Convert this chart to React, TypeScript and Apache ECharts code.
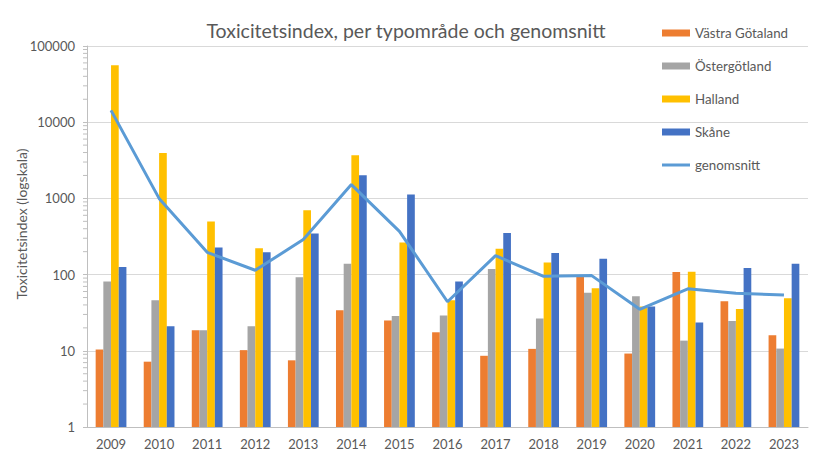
import { useEffect, useRef } from 'react';
import * as echarts from 'echarts';

const years = ['2009', '2010', '2011', '2012', '2013', '2014', '2015', '2016', '2017', '2018', '2019', '2020', '2021', '2022', '2023'];

const vastraGotaland = [10.4, 7.2, 18.6, 10.2, 7.5, 34, 25, 17.5, 8.6, 10.6, 97, 9.2, 108, 44.6, 16];
const ostergotland = [81, 46, 18.6, 21, 92, 139, 28.6, 29, 118, 26.5, 58, 52, 13.6, 24.6, 10.7];
const halland = [55800, 3940, 496, 221, 698, 3680, 263, 46, 219, 144, 66, 38, 109, 35.4, 49];
const skane = [126, 21, 226, 196, 345, 2010, 1122, 81, 352, 192, 162, 38, 23.5, 122, 139];
const genomsnitt = [14300, 1000, 196, 114, 288, 1517, 370, 44, 177, 95, 97, 35, 65, 57, 54];

// minor log ticks 2..9 per decade
const minorTicks: number[] = [];
for (let k = 0; k < 5; k++) {
  for (let m = 2; m <= 9; m++) minorTicks.push(m * Math.pow(10, k));
}

const FONT = 'Lato, "Noto Sans", sans-serif';
const TEXT = '#595959';

export default function App() {
  const chartRef = useRef<HTMLDivElement>(null);

  useEffect(() => {
    if (!chartRef.current) return;
    document.body.style.margin = '0';
    const chart = echarts.init(chartRef.current, undefined, { renderer: 'svg' });

    const barBase = { type: 'bar' as const, barGap: '0%', barCategoryGap: '36%' };

    chart.setOption({
      animation: false,
      backgroundColor: '#ffffff',
      textStyle: { fontFamily: FONT },
      title: {
        text: 'Toxicitetsindex, per typområde och genomsnitt',
        left: 401,
        top: 15,
        textAlign: 'center',
        textStyle: { fontFamily: FONT, fontSize: 19.5, fontWeight: 'normal', color: TEXT },
      },
      legend: {
        orient: 'vertical',
        left: 662,
        top: 25,
        padding: 0,
        itemWidth: 28,
        itemHeight: 7,
        itemGap: 17,
        symbolKeepAspect: true,
        textStyle: { fontFamily: FONT, fontSize: 13.3, color: TEXT, lineHeight: 16 },
        data: [
          { name: 'Västra Götaland', icon: 'rect' },
          { name: 'Östergötland', icon: 'rect' },
          { name: 'Halland', icon: 'rect' },
          { name: 'Skåne', icon: 'rect' },
          { name: 'genomsnitt', icon: 'path://M0,0 H28 V3 H0 Z' },
        ],
      },
      grid: { left: 87, right: 13, top: 46, bottom: 35 },
      xAxis: {
        type: 'category',
        data: years,
        axisLine: { lineStyle: { color: '#bfbfbf' } },
        axisTick: { length: 5, lineStyle: { color: '#bfbfbf' } },
        axisLabel: { fontFamily: FONT, fontSize: 13, color: TEXT, margin: 10 },
      },
      yAxis: {
        type: 'log',
        logBase: 10,
        min: 1,
        max: 100000,
        axisLine: { show: true, lineStyle: { color: '#bfbfbf' } },
        axisTick: { show: true, length: 4, lineStyle: { color: '#bfbfbf' } },
        axisLabel: {
          fontFamily: FONT,
          fontSize: 13,
          color: TEXT,
          margin: 12,
          formatter: (v: number) => String(Math.round(v)),
        },
        splitLine: { lineStyle: { color: '#d9d9d9' } },
      },
      graphic: [
        {
          type: 'text',
          x: 21,
          y: 224,
          rotation: Math.PI / 2,
          style: {
            text: 'Toxicitetsindex (logskala)',
            fontFamily: FONT,
            fontSize: 14,
            fill: TEXT,
            align: 'center',
            verticalAlign: 'middle',
          },
        },
      ],
      series: [
        { ...barBase, name: 'Västra Götaland', data: vastraGotaland, itemStyle: { color: '#ED7D31' } },
        { ...barBase, name: 'Östergötland', data: ostergotland, itemStyle: { color: '#A5A5A5' } },
        { ...barBase, name: 'Halland', data: halland, itemStyle: { color: '#FFC000' } },
        { ...barBase, name: 'Skåne', data: skane, itemStyle: { color: '#4472C4' } },
        {
          type: 'line',
          name: 'genomsnitt',
          data: genomsnitt,
          symbol: 'none',
          z: 5,
          itemStyle: { color: '#5B9BD5' },
          lineStyle: { color: '#5B9BD5', width: 3 },
        },
        {
          type: 'custom',
          name: 'minorTicks',
          silent: true,
          data: minorTicks.map((v) => [0, v]),
          encode: { x: 0, y: 1 },
          renderItem: (params: any, api: any) => {
            const p = api.coord([0, api.value(1)]);
            const x0 = params.coordSys.x;
            return {
              type: 'line',
              shape: { x1: x0 - 4, y1: p[1], x2: x0, y2: p[1] },
              style: { stroke: '#bfbfbf', lineWidth: 1 },
            };
          },
        },
      ],
    } as echarts.EChartsOption);

    return () => chart.dispose();
  }, []);

  return <div ref={chartRef} style={{ width: 821, height: 462 }} />;
}
